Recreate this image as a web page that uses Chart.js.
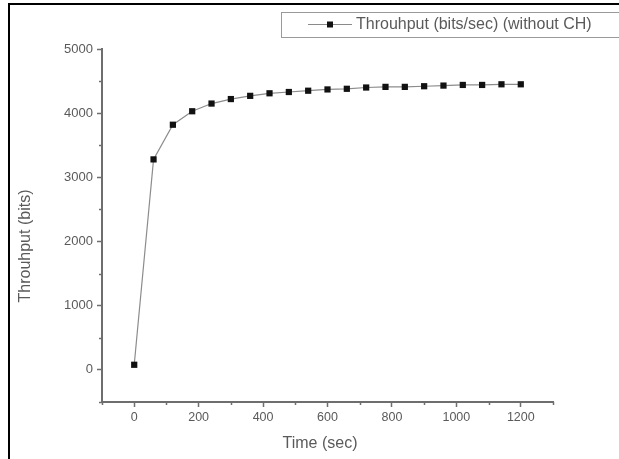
<!DOCTYPE html>
<html>
<head>
<meta charset="utf-8">
<script src="https://cdn.jsdelivr.net/npm/chart.js@4.4.1/dist/chart.umd.min.js"></script>
<style>
    html, body { margin: 0; padding: 0; background: #ffffff; }
    #chart { display: block; }
</style>
</head>
<body>
<canvas id="chart" width="619" height="459"></canvas>
<script>
// time in seconds, one sample every 60 s
const timeSec = [0, 60, 120, 180, 240, 300, 360, 420, 480, 540, 600, 660, 720, 780, 840, 900, 960, 1020, 1080, 1140, 1200];
const throughput = [80, 3280, 3820, 4030, 4150, 4220, 4270, 4310, 4330, 4350, 4370, 4380, 4400, 4410, 4410, 4420, 4430, 4440, 4440, 4450, 4450];

const xTicks = [-100, 0, 100, 200, 300, 400, 500, 600, 700, 800, 900, 1000, 1100, 1200, 1300];
const xLabelTicks = [0, 200, 400, 600, 800, 1000, 1200];
const yTicks = [-500, 0, 500, 1000, 1500, 2000, 2500, 3000, 3500, 4000, 4500, 5000];
const yLabelTicks = [0, 1000, 2000, 3000, 4000, 5000];

const seriesLabel = 'Throuhput (bits/sec) (without CH)';
const xTitle = 'Time (sec)';
const yTitle = 'Throuhput (bits)';

const fontFamily = "'Liberation Sans', Arial, sans-serif";
const axisColor = '#6e6e6e';
const textColor = '#5a5a5a';

// origin-style extras: frame, minor ticks, axis titles and boxed legend
const originDecor = {
    id: 'originDecor',
    afterDraw(chart) {
        const { ctx, scales, chartArea } = chart;
        const x = scales.x;
        const y = scales.y;

        ctx.save();

        // black frame on the left and top
        ctx.fillStyle = '#000000';
        ctx.fillRect(8, 3, 2, 456);
        ctx.fillRect(8, 3, 611, 2);

        // minor ticks
        ctx.strokeStyle = axisColor;
        ctx.lineWidth = 1.5;
        xTicks.filter((v) => !xLabelTicks.includes(v)).forEach((v) => {
            const px = Math.round(x.getPixelForValue(v)) + 0.5;
            ctx.beginPath();
            ctx.moveTo(px, chartArea.bottom);
            ctx.lineTo(px, chartArea.bottom + 3);
            ctx.stroke();
        });
        yTicks.filter((v) => !yLabelTicks.includes(v)).forEach((v) => {
            const py = Math.round(y.getPixelForValue(v)) + 0.5;
            ctx.beginPath();
            ctx.moveTo(chartArea.left, py);
            ctx.lineTo(chartArea.left - 3, py);
            ctx.stroke();
        });

        // axis titles
        ctx.fillStyle = textColor;
        ctx.font = `16px ${fontFamily}`;
        ctx.textAlign = 'center';
        ctx.textBaseline = 'middle';
        ctx.fillText(xTitle, 320, 444);

        ctx.save();
        ctx.translate(26, 246);
        ctx.rotate(-Math.PI / 2);
        ctx.fillText(yTitle, 0, 0);
        ctx.restore();

        // legend box
        ctx.strokeStyle = '#9a9a9a';
        ctx.lineWidth = 1;
        ctx.strokeRect(281.5, 12.5, 360, 25);

        ctx.strokeStyle = '#8a8a8a';
        ctx.beginPath();
        ctx.moveTo(308, 24.5);
        ctx.lineTo(352, 24.5);
        ctx.stroke();
        ctx.fillStyle = '#111111';
        ctx.fillRect(327, 21.5, 6, 6);

        ctx.fillStyle = textColor;
        ctx.textAlign = 'left';
        ctx.fillText(seriesLabel, 356, 25);

        ctx.restore();
    },
};

new Chart(document.getElementById('chart'), {
    type: 'line',
    data: {
        datasets: [
            {
                label: seriesLabel,
                data: timeSec.map((t, i) => ({ x: t, y: throughput[i] })),
                borderColor: '#8c8c8c',
                borderWidth: 1.2,
                pointStyle: 'rect',
                pointRadius: 4.4,
                pointBackgroundColor: '#111111',
                pointBorderColor: '#111111',
                pointBorderWidth: 0,
                tension: 0,
            },
        ],
    },
    options: {
        responsive: false,
        animation: false,
        layout: {
            padding: { top: 49, right: 66, bottom: 0, left: 0 },
        },
        plugins: {
            legend: { display: false },
            tooltip: { enabled: false },
        },
        scales: {
            x: {
                type: 'linear',
                min: -100,
                max: 1300,
                afterBuildTicks: (scale) => {
                    scale.ticks = xTicks.map((v) => ({ value: v }));
                },
                afterFit: (scale) => {
                    scale.height = 57;
                },
                border: { display: true, color: axisColor, width: 2 },
                grid: {
                    drawOnChartArea: false,
                    drawTicks: true,
                    tickLength: 5,
                    tickWidth: 1.5,
                    tickColor: (c) => (xLabelTicks.includes(c.tick?.value) ? axisColor : 'transparent'),
                },
                ticks: {
                    autoSkip: false,
                    maxRotation: 0,
                    padding: 3,
                    color: textColor,
                    font: { family: fontFamily, size: 12.5 },
                    callback: (v) => (xLabelTicks.includes(v) ? String(v) : ''),
                },
            },
            y: {
                type: 'linear',
                min: -500,
                max: 5000,
                afterBuildTicks: (scale) => {
                    scale.ticks = yTicks.map((v) => ({ value: v }));
                },
                afterFit: (scale) => {
                    scale.width = 102;
                },
                border: { display: true, color: axisColor, width: 2 },
                grid: {
                    drawOnChartArea: false,
                    drawTicks: true,
                    tickLength: 5,
                    tickWidth: 1.5,
                    tickColor: (c) => (yLabelTicks.includes(c.tick?.value) ? axisColor : 'transparent'),
                },
                ticks: {
                    autoSkip: false,
                    padding: 4,
                    color: textColor,
                    font: { family: fontFamily, size: 13 },
                    callback: (v) => (yLabelTicks.includes(v) ? String(v) : ''),
                },
            },
        },
    },
    plugins: [originDecor],
});
</script>
</body>
</html>
